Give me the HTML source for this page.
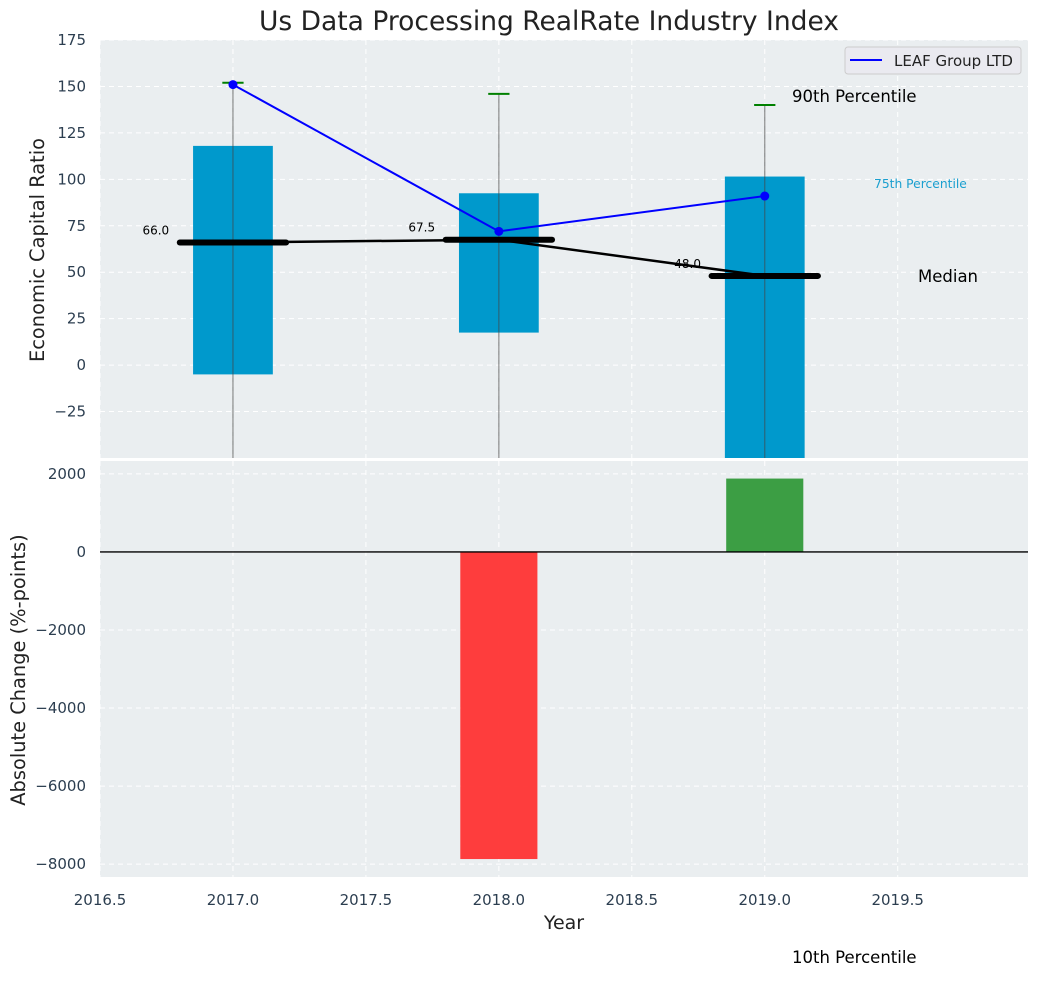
<!DOCTYPE html>
<html><head><meta charset="utf-8"><style>
body{margin:0;background:#fff;}
svg{font-family:"DejaVu Sans","Liberation Sans",sans-serif;}
</style></head><body>
<svg id="chart" width="1039" height="976" viewBox="0 0 1039 976" xmlns="http://www.w3.org/2000/svg"></svg>
<script>
const years=[2017,2018,2019];
const q75=[118,92.5,101.5];
const q25=[-5,17.5,-60];
const p90=[152,146,140];
const p10=[-80,-80,-80];
const medians=[66,67.5,48];
const medianLabels=["66.0","67.5","48.0"];
const company=[151,72,91];
const changes=[0,-7870,1880];
const xTicks=[2016.5,2017,2017.5,2018,2018.5,2019,2019.5];
const yTopTicks=[-25,0,25,50,75,100,125,150,175];
const yBotTicks=[-8000,-6000,-4000,-2000,0,2000];

const svg=document.getElementById('chart');
const NS='http://www.w3.org/2000/svg';
function mk(tag,attrs,parent){const e=document.createElementNS(NS,tag);for(const k in attrs)e.setAttribute(k,attrs[k]);(parent||svg).appendChild(e);return e;}
const L=100,R=1028,T1=40,B1=458,T2=461,B2=877;
const X=v=>L+(v-2016.5)/(2019.99-2016.5)*(R-L);
const Y1=v=>T1+(175-v)/225*(B1-T1);
const Y2=v=>T2+(2330-v)/(2330+8330)*(B2-T2);

let t=mk('text',{x:549,y:30,'text-anchor':'middle','font-size':26.5,fill:'#222'});t.textContent='Us Data Processing RealRate Industry Index';


let bg1=mk('rect',{x:L,y:T1,width:R-L,height:B1-T1,fill:'#eaeef0'});

let bg2=mk('rect',{x:L,y:T2,width:R-L,height:B2-T2,fill:'#eaeef0'});


xTicks.forEach(v=>{
  mk('line',{x1:X(v),x2:X(v),y1:T1,y2:B1,stroke:'#fff','stroke-dasharray':'5,4','stroke-width':1});
  mk('line',{x1:X(v),x2:X(v),y1:T2,y2:B2,stroke:'#fff','stroke-dasharray':'5,4','stroke-width':1});
  const tx=mk('text',{x:X(v),y:905,'text-anchor':'middle','font-size':15,fill:'#2c3e50'});tx.textContent=v.toFixed(1);
  
});
yTopTicks.forEach(v=>{
  mk('line',{x1:L,x2:R,y1:Y1(v),y2:Y1(v),stroke:'#fff','stroke-dasharray':'5,4','stroke-width':1});
  const tx=mk('text',{x:L-14,y:Y1(v)+5,'text-anchor':'end','font-size':15,fill:'#2c3e50'});tx.textContent=v<0?'\u2212'+(-v):v;
  
});
yBotTicks.forEach(v=>{
  mk('line',{x1:L,x2:R,y1:Y2(v),y2:Y2(v),stroke:'#fff','stroke-dasharray':'5,4','stroke-width':1});
  const tx=mk('text',{x:L-14,y:Y2(v)+5,'text-anchor':'end','font-size':15,fill:'#2c3e50'});tx.textContent=v<0?'\u2212'+(-v):v;
  
});

const defs=mk('defs',{});
const cp=mk('clipPath',{id:'c1'},defs);mk('rect',{x:L,y:T1,width:R-L,height:B1-T1},cp);
const g1=mk('g',{'clip-path':'url(#c1)'});

const bw=0.3;
years.forEach((yr,i)=>{
  const b=mk('rect',{x:X(yr-bw/2),y:Y1(q75[i]),width:X(yr+bw/2)-X(yr-bw/2),height:Y1(q25[i])-Y1(q75[i]),fill:'#0099cc'},g1);
  
  const w=mk('line',{x1:X(yr),x2:X(yr),y1:Y1(p90[i]),y2:Y1(p10[i]),stroke:'#444','stroke-opacity':0.6,'stroke-width':1.2},g1);
  
  const c=mk('line',{x1:X(yr-0.04),x2:X(yr+0.04),y1:Y1(p90[i]),y2:Y1(p90[i]),stroke:'green','stroke-width':2},g1);
  
});
let mp=years.map((yr,i)=>X(yr)+','+Y1(medians[i])).join(' ');
let ml=mk('polyline',{points:mp,fill:'none',stroke:'#000','stroke-width':2.5},g1);

years.forEach((yr,i)=>{
  const m=mk('line',{x1:X(yr-0.2),x2:X(yr+0.2),y1:Y1(medians[i]),y2:Y1(medians[i]),stroke:'#000','stroke-width':6,'stroke-linecap':'round'},g1);
  
  const tx=mk('text',{x:X(yr-0.29),y:Y1(medians[i])-8,'text-anchor':'middle','font-size':12,fill:'#000'},g1);tx.textContent=medianLabels[i];
  
});
let cpnts=years.map((yr,i)=>X(yr)+','+Y1(company[i])).join(' ');
let cl=mk('polyline',{points:cpnts,fill:'none',stroke:'blue','stroke-width':2},g1);

years.forEach((yr,i)=>{
  const d=mk('circle',{cx:X(yr),cy:Y1(company[i]),r:4.5,fill:'blue'},g1);
  
});
[['90th Percentile',792,102,16.5,'#000','annotation-90th'],['75th Percentile',874,188,12.3,'#1a9fcf','annotation-75th'],['Median',918,282,16.5,'#000','annotation-median'],['10th Percentile',792,963,16.5,'#000','annotation-10th']].forEach(a=>{
  const tx=mk('text',{x:a[1],y:a[2],'font-size':a[3],fill:a[4]});tx.textContent=a[0];
  
});
const lg=mk('g',{});

mk('rect',{x:845,y:47,width:176,height:27,rx:3,fill:'#eaeaf0',stroke:'#ccc'},lg);
mk('line',{x1:850,x2:882,y1:60,y2:60,stroke:'blue','stroke-width':2},lg);
let lt=mk('text',{x:894,y:66,'font-size':15,fill:'#222'},lg);lt.textContent='LEAF Group LTD';


years.forEach((yr,i)=>{
  if(changes[i]===0)return;
  const y0=Y2(Math.max(0,changes[i])),y1=Y2(Math.min(0,changes[i]));
  const b=mk('rect',{x:X(yr-0.145),y:y0,width:X(yr+0.145)-X(yr-0.145),height:y1-y0,fill:changes[i]<0?'#ff3333':'#33993a','fill-opacity':0.95});
  
});
let zl=mk('line',{x1:L,x2:R,y1:Y2(0),y2:Y2(0),stroke:'#000','stroke-width':1.3});


let yt1=mk('text',{x:0,y:0,'font-size':19.4,fill:'#222','text-anchor':'middle',transform:'translate(44,250) rotate(-90)'});yt1.textContent='Economic Capital Ratio';

let yt2=mk('text',{x:0,y:0,'font-size':19.4,fill:'#222','text-anchor':'middle',transform:'translate(25,670) rotate(-90)'});yt2.textContent='Absolute Change (%-points)';

let xt=mk('text',{x:564,y:929,'font-size':19,fill:'#222','text-anchor':'middle'});xt.textContent='Year';

</script>
</body></html>
